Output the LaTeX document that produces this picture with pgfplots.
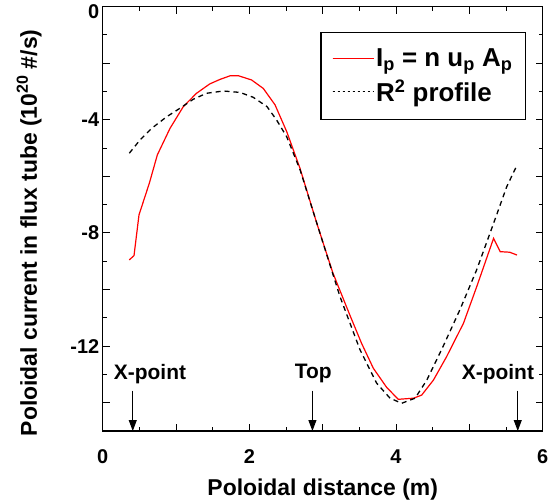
\documentclass[border=0pt]{standalone}
\usepackage{fontspec}
\setmainfont{Liberation Sans}
\usepackage{pgfplots}
\pgfplotsset{compat=1.18}
\usetikzlibrary{arrows.meta}

\begin{document}
\begin{tikzpicture}
\begin{axis}[
    scale only axis,
    width=440bp, height=424.3bp,
    xmin=0, xmax=6,
    ymin=-15, ymax=0,
    xtick={0,1,...,6},
    xticklabels={0,,2,,4,,6},
    ytick={-14,-12,...,0},
    yticklabels={,-12,,-8,,-4,,\raisebox{-12bp}[0pt][0pt]{0}},
    minor x tick num=1,
    minor y tick num=1,
    major tick length=7bp,
    minor tick length=4bp,
    every tick/.style={black, line width=1bp},
    axis line style={black, line width=1.3bp},
    /pgf/number format/assume math mode=true,
    ticklabel style={font=\bfseries\fontsize{20}{20}\selectfont},
    xticklabel style={yshift=-15bp},
    xlabel={Poloidal distance (m)},
    ylabel={Poloidal current in flux tube (10\textsuperscript{20} \#/s)},
    label style={font=\bfseries\fontsize{23}{23}\selectfont},
    every axis x label/.append style={yshift=-8bp},
    every axis y label/.append style={yshift=22bp, xshift=-14bp},
    legend image code/.code={\path (0bp,0bp) -- (41bp,0bp);\draw[#1] (0bp,0bp) -- (33bp,0bp);},
    legend style={at={(0.962,0.940)}, anchor=north east, draw=black,
        line width=1.2bp, font=\bfseries\fontsize{26}{28}\selectfont,
        inner xsep=11bp, inner ysep=14bp, row sep=8bp},
    legend cell align=left,
]
\addlegendimage{red, line width=1.2bp}
\addlegendentry{I\textsubscript{p} = n u\textsubscript{p} A\textsubscript{p}}
\addlegendimage{black, line width=1.2bp, dash pattern=on 2.5bp off 2.5bp}
\addlegendentry{R\textsuperscript{2} profile}

% measured flux
\addplot[red, line width=1.2bp, forget plot] coordinates {
(0.363,-8.95)(0.427,-8.80)(0.495,-7.36)(0.636,-6.24)(0.745,-5.24)
(0.918,-4.30)(1.10,-3.53)(1.28,-3.06)(1.46,-2.73)(1.60,-2.57)
(1.74,-2.44)(1.85,-2.44)(2.03,-2.59)(2.19,-2.89)(2.35,-3.47)
(2.51,-4.42)(2.69,-5.71)(2.92,-7.66)(3.14,-9.42)(3.37,-10.9)
(3.53,-11.9)(3.69,-12.78)(3.87,-13.45)(4.03,-13.88)(4.24,-13.84)
(4.35,-13.73)(4.51,-13.2)(4.69,-12.37)(4.92,-11.19)(5.10,-9.9)
(5.33,-8.19)(5.42,-8.66)(5.55,-8.68)(5.65,-8.78)
};
% R^2 profile
\addplot[black, line width=1.3bp, dash pattern=on 5bp off 4bp, forget plot] coordinates {
(0.363,-5.18)(0.509,-4.71)(0.668,-4.30)(0.873,-3.89)(1.054,-3.59)
(1.236,-3.27)(1.418,-3.06)(1.645,-2.98)(1.872,-3.03)(2.05,-3.2)
(2.24,-3.53)(2.37,-4.0)(2.51,-4.6)(2.692,-5.77)(2.963,-8.01)
(3.236,-10.25)(3.509,-12.13)(3.736,-13.31)(3.918,-13.84)(4.077,-14.02)
(4.26,-13.84)(4.42,-13.2)(4.64,-12.02)(4.87,-10.72)(5.10,-9.3)
(5.33,-7.66)(5.51,-6.36)(5.65,-5.6)
};

\begin{scope}[font=\bfseries\fontsize{21}{21}\selectfont]
\node at (axis cs:0.645,-12.98) {X-point};
\node at (axis cs:2.87,-12.98) {Top};
\node at (axis cs:5.39,-12.98) {X-point};
\end{scope}
\draw[line width=1bp, -{Triangle[length=11bp,width=8bp]}] (axis cs:0.41,-13.57) -- (axis cs:0.41,-15);
\draw[line width=1bp, -{Triangle[length=11bp,width=8bp]}] (axis cs:2.86,-13.57) -- (axis cs:2.86,-15);
\draw[line width=1bp, -{Triangle[length=11bp,width=8bp]}] (axis cs:5.66,-13.57) -- (axis cs:5.66,-15);
\end{axis}
\pgfresetboundingbox
\path (-102.7bp,-70bp) rectangle (457.3bp,431bp);
\end{tikzpicture}
\end{document}
